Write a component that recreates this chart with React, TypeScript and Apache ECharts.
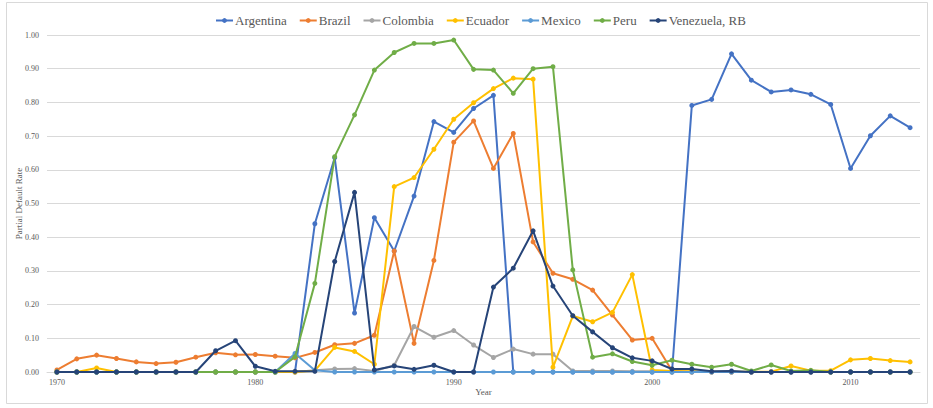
import React, { useEffect, useRef } from "react";
import * as echarts from "echarts";

const years: string[] = [];
for (let y = 1970; y <= 2013; y++) years.push(String(y));

const seriesNames = ["Argentina", "Brazil", "Colombia", "Ecuador", "Mexico", "Peru", "Venezuela, RB"];
const colors = ["#4472C4", "#ED7D31", "#A5A5A5", "#FFC000", "#5B9BD5", "#70AD47", "#264478"];

// 1970 ... 2013
const argentina = [
  0, 0, 0, 0, 0, 0, 0, 0, 0, 0,
  0, 0, 0, 0.44, 0.636, 0.175, 0.458, 0.359, 0.522, 0.743,
  0.711, 0.782, 0.821, 0, 0, 0, 0, 0, 0, 0,
  0, 0, 0.791, 0.809, 0.944, 0.866, 0.831, 0.837, 0.824, 0.794,
  0.604, 0.701, 0.76, 0.725,
];
const brazil = [
  0.006, 0.039, 0.05, 0.04, 0.03, 0.025, 0.029, 0.044, 0.057, 0.051,
  0.052, 0.047, 0.042, 0.058, 0.081, 0.085, 0.109, 0.359, 0.085, 0.331,
  0.682, 0.745, 0.604, 0.708, 0.386, 0.293, 0.275, 0.243, 0.169, 0.095,
  0.1, 0.004, 0, 0, 0, 0, 0, 0, 0, 0,
  0, 0, 0, 0,
];
const colombia = [
  0, 0, 0, 0, 0, 0, 0, 0, 0, 0,
  0, 0, 0, 0.005, 0.009, 0.01, 0.003, 0.02, 0.135, 0.103,
  0.123, 0.08, 0.043, 0.068, 0.053, 0.053, 0.003, 0.003, 0.003, 0.002,
  0.002, 0, 0, 0, 0, 0, 0, 0, 0, 0,
  0, 0, 0, 0,
];
const ecuador = [
  0, 0, 0.012, 0, 0, 0, 0, 0, 0, 0,
  0, 0, 0, 0.004, 0.073, 0.061, 0.023, 0.55, 0.577, 0.661,
  0.75, 0.799, 0.841, 0.872, 0.869, 0.014, 0.166, 0.149, 0.177, 0.289,
  0.006, 0.003, 0.002, 0.001, 0.001, 0.001, 0.001, 0.018, 0.004, 0.004,
  0.036, 0.04, 0.034, 0.03,
];
const mexico = [
  0, 0, 0, 0, 0, 0, 0, 0, 0, 0,
  0, 0, 0.055, 0.005, 0, 0, 0, 0, 0, 0,
  0, 0, 0, 0, 0, 0, 0, 0, 0, 0,
  0, 0, 0, 0, 0, 0, 0, 0, 0, 0,
  0, 0, 0, 0,
];
const peru = [
  0, 0, 0, 0, 0, 0, 0, 0, 0, 0,
  0, 0, 0.045, 0.263, 0.639, 0.763, 0.896, 0.948, 0.975, 0.975,
  0.985, 0.898, 0.896, 0.827, 0.9, 0.906, 0.303, 0.044, 0.054, 0.031,
  0.02, 0.035, 0.023, 0.014, 0.023, 0.003, 0.021, 0.003, 0.005, 0,
  0, 0, 0, 0,
];
const venezuela = [
  0, 0, 0, 0, 0, 0, 0, 0, 0.063, 0.093,
  0.017, 0.002, 0.002, 0.002, 0.328, 0.533, 0.006, 0.018, 0.008, 0.02,
  0, 0, 0.252, 0.308, 0.419, 0.255, 0.167, 0.119, 0.072, 0.042,
  0.033, 0.009, 0.009, 0.002, 0.003, 0, 0, 0, 0, 0,
  0, 0, 0, 0,
];

const allData = [argentina, brazil, colombia, ecuador, mexico, peru, venezuela];

export default function App() {
  const ref = useRef<HTMLDivElement>(null);
  useEffect(() => {
    if (!ref.current) return;
    const chart = echarts.init(ref.current, undefined, { renderer: "svg" });
    const font = "'Liberation Serif', 'Times New Roman', serif";
    chart.setOption({
      animation: false,
      backgroundColor: "#FFFFFF",
      textStyle: { fontFamily: font },
      color: colors,
      graphic: [
        {
          type: "rect",
          shape: { x: 6.5, y: 2.5, width: 921, height: 401 },
          style: { fill: "none", stroke: "#D9D9D9", lineWidth: 1 },
          silent: true,
          z: -1,
        },
      ],
      legend: {
        top: 9,
        left: 210,
        itemWidth: 17,
        itemHeight: 6,
        itemGap: 12,
        textStyle: { fontFamily: font, fontSize: 13, color: "#595959", padding: [0, 0, 0, -3] },
        data: seriesNames,
      },
      grid: { left: 47, right: 13, top: 35, bottom: 36 },
      xAxis: {
        type: "category",
        data: years,
        boundaryGap: true,
        name: "Year",
        nameLocation: "middle",
        nameGap: 15,
        nameMoveOverlap: false,
        nameTextStyle: { fontFamily: font, fontSize: 9, color: "#595959" },
        axisLine: { show: true, lineStyle: { color: "#D9D9D9" } },
        axisTick: { show: false },
        axisLabel: { interval: 9, fontFamily: font, fontSize: 8, color: "#595959", margin: 6 },
        splitLine: { show: false },
      },
      yAxis: {
        type: "value",
        min: 0,
        max: 1,
        interval: 0.1,
        name: "Partial Default Rate",
        nameLocation: "middle",
        nameGap: 24,
        nameMoveOverlap: false,
        nameTextStyle: { fontFamily: font, fontSize: 9, color: "#595959" },
        axisLine: { show: false },
        axisTick: { show: false },
        axisLabel: {
          fontFamily: font,
          fontSize: 8,
          color: "#595959",
          margin: 8,
          formatter: (v: number) => v.toFixed(2),
        },
        splitLine: { lineStyle: { color: "#D9D9D9", width: 1 } },
      },
      series: seriesNames.map((name, i) => ({
        name,
        type: "line",
        data: allData[i],
        symbol: "circle",
        symbolSize: 5,
        showSymbol: true,
        lineStyle: { width: 2, color: colors[i] },
        itemStyle: { color: colors[i] },
        z: 2 + i,
      })),
    });
    return () => chart.dispose();
  }, []);
  return (
    <div
      ref={ref}
      style={{ position: "fixed", left: 0, top: 0, width: 933, height: 408 }}
    />
  );
}
